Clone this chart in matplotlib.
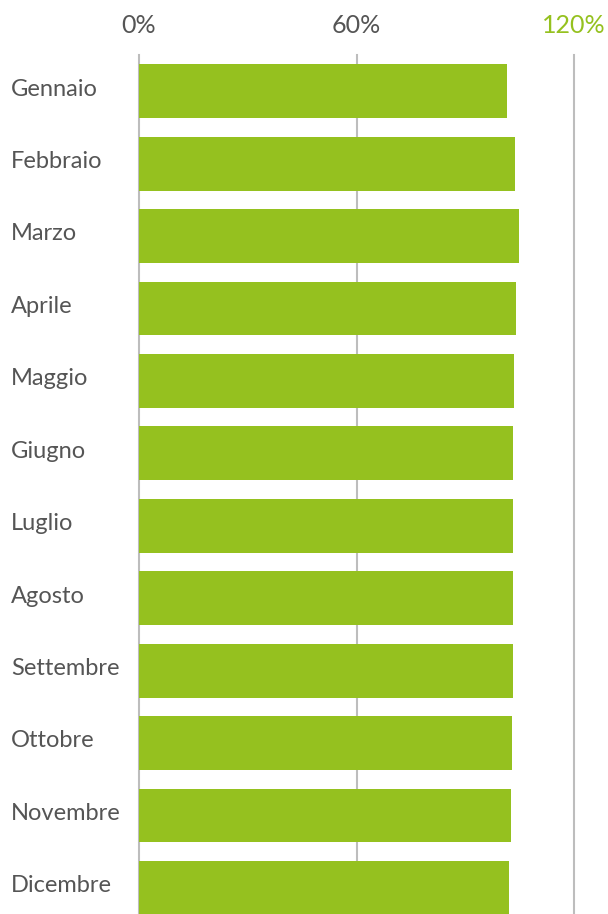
import matplotlib.pyplot as plt
from matplotlib import transforms

plt.rcParams['font.family'] = ['Lato', 'DejaVu Sans']

mesi = ['Gennaio', 'Febbraio', 'Marzo', 'Aprile', 'Maggio', 'Giugno',
        'Luglio', 'Agosto', 'Settembre', 'Ottobre', 'Novembre', 'Dicembre']
valori = [101.4, 103.7, 104.8, 104.0, 103.4, 103.2,
          103.2, 103.2, 103.2, 102.9, 102.6, 102.1]
tick_vals = [0, 60, 120]
tick_labels = ['0%', '60%', '120%']

verde = '#95c11f'
grigio = '#555555'

fig = plt.figure(figsize=(6.08, 9.14), dpi=100)
ax = fig.add_axes([139/608, 0, (574-139)/608, (914-55)/914])

ypos = list(range(len(mesi)))
for x in tick_vals:
    ax.axvline(x, color='#bdbdbd', lw=1.5, zorder=0, clip_on=False)
ax.barh(ypos, valori, height=0.745, color=verde, zorder=2)

ax.set_xlim(0, 120)
ax.set_ylim(11.36, -0.5)
for s in ax.spines.values():
    s.set_visible(False)

ax.xaxis.tick_top()
ax.set_xticks(tick_vals)
ax.set_xticklabels(tick_labels, fontsize=18)
ax.tick_params(axis='x', length=0, pad=13)
for lbl, c in zip(ax.get_xticklabels(), [grigio, grigio, verde]):
    lbl.set_color(c)

ax.set_yticks([])
trans = transforms.blended_transform_factory(fig.transFigure, ax.transData)
for y, m in zip(ypos, mesi):
    ax.text(11/608, y - 0.03, m, transform=trans, ha='left', va='center',
            fontsize=17, color=grigio)

fig.savefig('out.png', dpi=100)
